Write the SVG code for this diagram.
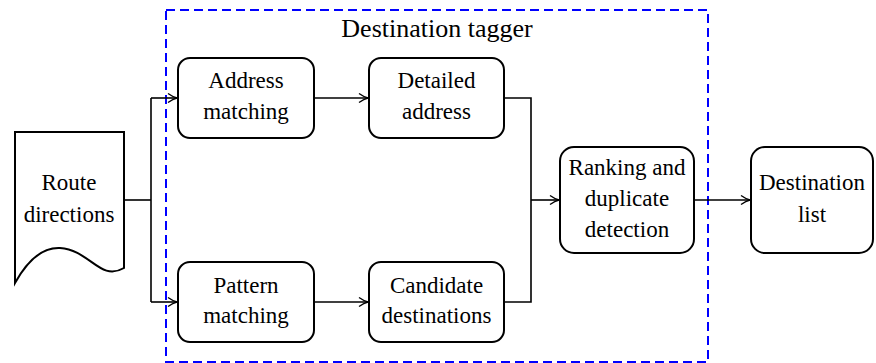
<svg xmlns="http://www.w3.org/2000/svg" width="876" height="363" viewBox="0 0 876 363">
<style>
.n{fill:#fff;stroke:#000;stroke-width:2}
.t{font-family:"Liberation Serif","Times New Roman",serif;font-size:23px;fill:#000;text-anchor:middle}
.c{fill:none;stroke:#000;stroke-width:1.6}
</style>
<defs>
<marker id="ar" markerUnits="userSpaceOnUse" markerWidth="14" markerHeight="12" viewBox="-10 -6 12 12" refX="0" refY="0" orient="auto">
<path d="M-9,-4.5 Q-4,-1 0,0 Q-4,1 -9,4.5" fill="none" stroke="#000" stroke-width="1.4" stroke-linejoin="round"/>
</marker>
</defs>
<rect id="tagger-box" x="166" y="10" width="542" height="352" fill="none" stroke="#0000ff" stroke-width="2" stroke-dasharray="9,5"/>
<text x="437" y="37" class="t" style="font-size:26px">Destination tagger</text>
<g id="connectors">
<path class="c" d="M124,200 H151"/>
<path class="c" d="M151,98 V302"/>
<path class="c" d="M151,98 H177" marker-end="url(#ar)"/>
<path class="c" d="M151,302 H177" marker-end="url(#ar)"/>
<path class="c" d="M314,98 H368" marker-end="url(#ar)"/>
<path class="c" d="M314,302 H368" marker-end="url(#ar)"/>
<path class="c" d="M504,98 H531 V302 H504"/>
<path class="c" d="M531,200 H559" marker-end="url(#ar)"/>
<path class="c" d="M694,200 H750" marker-end="url(#ar)"/>
</g>
<g id="route-directions">
<path class="n" d="M15,132 H124 V268 C100,282 90,250 60,248 C40,247 25,265 15,283 Z"/>
<text class="t" x="69" y="190">Route</text>
<text class="t" x="69" y="222">directions</text>
</g>
<g id="address-matching">
<rect class="n" x="178" y="58" width="136" height="80" rx="12"/>
<text class="t" x="246" y="88">Address</text>
<text class="t" x="246" y="119">matching</text>
</g>
<g id="detailed-address">
<rect class="n" x="369" y="58" width="135" height="80" rx="12"/>
<text class="t" x="436.5" y="88">Detailed</text>
<text class="t" x="436.5" y="119">address</text>
</g>
<g id="pattern-matching">
<rect class="n" x="178" y="262" width="136" height="80" rx="12"/>
<text class="t" x="246" y="293">Pattern</text>
<text class="t" x="246" y="323">matching</text>
</g>
<g id="candidate-destinations">
<rect class="n" x="369" y="262" width="135" height="80" rx="12"/>
<text class="t" x="436.5" y="293">Candidate</text>
<text class="t" x="436.5" y="323">destinations</text>
</g>
<g id="ranking">
<rect class="n" x="560" y="147" width="134" height="106" rx="14"/>
<text class="t" x="627" y="175">Ranking and</text>
<text class="t" x="627" y="206">duplicate</text>
<text class="t" x="627" y="237">detection</text>
</g>
<g id="destination-list">
<rect class="n" x="751" y="147" width="122" height="106" rx="14"/>
<text class="t" x="812" y="190">Destination</text>
<text class="t" x="812" y="222">list</text>
</g>
</svg>
